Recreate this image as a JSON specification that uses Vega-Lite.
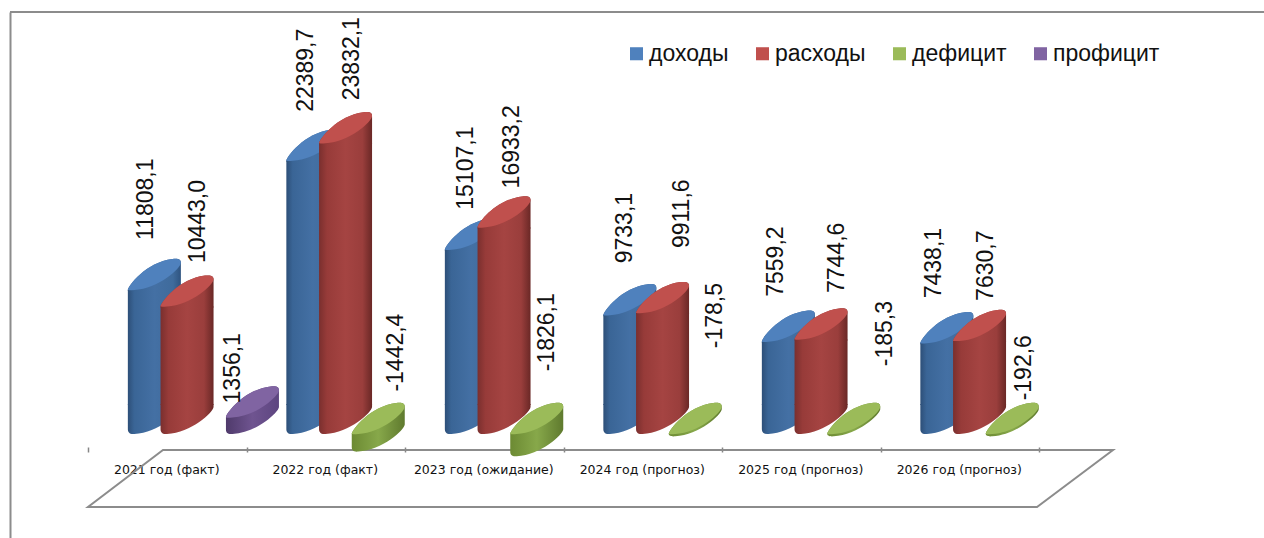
{"$schema":"https://vega.github.io/schema/vega-lite/v6.json","width":1254,"height":526,"autosize":"none","padding":{"left":10,"top":12,"right":0,"bottom":0},"background":"white","config":{"view":{"stroke":null}},
"data":{"values":[
{"year":"2021 год (факт)","series":"доходы","value":11808.1,"label":"11808,1"},{"year":"2021 год (факт)","series":"расходы","value":10443.0,"label":"10443,0"},{"year":"2021 год (факт)","series":"профицит","value":1356.1,"label":"1356,1"},
{"year":"2022 год (факт)","series":"доходы","value":22389.7,"label":"22389,7"},{"year":"2022 год (факт)","series":"расходы","value":23832.1,"label":"23832,1"},{"year":"2022 год (факт)","series":"дефицит","value":-1442.4,"label":"-1442,4"},
{"year":"2023 год (ожидание)","series":"доходы","value":15107.1,"label":"15107,1"},{"year":"2023 год (ожидание)","series":"расходы","value":16933.2,"label":"16933,2"},{"year":"2023 год (ожидание)","series":"дефицит","value":-1826.1,"label":"-1826,1"},
{"year":"2024 год (прогноз)","series":"доходы","value":9733.1,"label":"9733,1"},{"year":"2024 год (прогноз)","series":"расходы","value":9911.6,"label":"9911,6"},{"year":"2024 год (прогноз)","series":"дефицит","value":-178.5,"label":"-178,5"},
{"year":"2025 год (прогноз)","series":"доходы","value":7559.2,"label":"7559,2"},{"year":"2025 год (прогноз)","series":"расходы","value":7744.6,"label":"7744,6"},{"year":"2025 год (прогноз)","series":"дефицит","value":-185.3,"label":"-185,3"},
{"year":"2026 год (прогноз)","series":"доходы","value":7438.1,"label":"7438,1"},{"year":"2026 год (прогноз)","series":"расходы","value":7630.7,"label":"7630,7"},{"year":"2026 год (прогноз)","series":"дефицит","value":-192.6,"label":"-192,6"}
]},
"encoding":{
"x":{"field":"year","type":"nominal","sort":null,"title":null,"scale":{"domain":["2021 год (факт)","2022 год (факт)","2023 год (ожидание)","2024 год (прогноз)","2025 год (прогноз)","2026 год (прогноз)"],"range":[78,1029],"paddingInner":0,"paddingOuter":0},"axis":{"orient":"bottom","offset":-91,"domain":false,"ticks":true,"tickBand":"extent","tickSize":5,"tickColor":"#868686","tickWidth":1.5,"labelAngle":0,"labelFont":"DejaVu Sans","labelFontSize":12.5,"labelOffset":-1,"labelColor":"#111111","labelPadding":11,"labelOverlap":false,"grid":false}},
"xOffset":{"field":"series","type":"nominal","scale":{"domain":["доходы","расходы","дефицит","профицит"],"range":[50,180.8],"paddingInner":0,"paddingOuter":0}}
},
"layer":[
{"mark":{"type":"rule","stroke":"#8c8c8c","strokeWidth":2},"encoding":{"x":null,"xOffset":null,"y":{"datum":34590,"type":"quantitative","title":null,"scale":{"domain":[-8525,34590],"nice":false,"zero":false},"axis":{"orient":"left","domain":true,"domainColor":"#8c8c8c","domainWidth":2,"ticks":false,"labels":false,"grid":false,"title":null}}}},
{"transform":[{"filter":"datum.label=='11808,1'"}],"mark":{"type":"point","shape":"M8.65,0L958.65,0L882.65,57L-66.35,57Z","size":4,"filled":false,"opacity":1,"color":"#8c8c8c","strokeWidth":2},"encoding":{"y":{"datum":-1311,"type":"quantitative"}}},

{"transform":[{"filter":"datum.series=='доходы'"}],"mark":{"type":"bar","size":53,"y2Offset":-29,"fill":{"gradient":"linear","x1":0,"x2":1,"y1":0,"y2":0,"stops":[{"offset":0,"color":"#2d4f78"},{"offset":0.12,"color":"#3a6596"},{"offset":0.5,"color":"#4470a4"},{"offset":0.85,"color":"#3f6b9c"},{"offset":1,"color":"#2f5480"}]}},"encoding":{"y":{"field":"value","type":"quantitative"},"y2":{"datum":0}}},
{"transform":[{"filter":"datum.series=='доходы'"}],"mark":{"type":"point","size":4,"filled":true,"opacity":1,"strokeWidth":0,"shape":"M-26.5,1L-26.5,0C-26.5,-4 -8,-28 18,-31C24,-31.5 26.5,-31 26.5,-27L26.5,1Z","fill":{"gradient":"linear","x1":0,"x2":1,"y1":0,"y2":0,"stops":[{"offset":0,"color":"#2d4f78"},{"offset":0.12,"color":"#3a6596"},{"offset":0.5,"color":"#4470a4"},{"offset":0.85,"color":"#3f6b9c"},{"offset":1,"color":"#2f5480"}]}},"encoding":{"y":{"field":"value","type":"quantitative"}}},
{"transform":[{"filter":"datum.series=='доходы'"}],"mark":{"type":"point","size":4,"filled":true,"opacity":1,"strokeWidth":0,"shape":"M-26.5,-30L26.5,-30L26.5,-27C26.5,-22 4,-1 -20,0C-25,0.5 -26.5,-2 -26.5,-5Z","fill":{"gradient":"linear","x1":0,"x2":1,"y1":0,"y2":0,"stops":[{"offset":0,"color":"#2d4f78"},{"offset":0.12,"color":"#3a6596"},{"offset":0.5,"color":"#4470a4"},{"offset":0.85,"color":"#3f6b9c"},{"offset":1,"color":"#2f5480"}]}},"encoding":{"y":{"datum":0,"type":"quantitative"}}},
{"transform":[{"filter":"datum.series=='доходы'"}],"mark":{"type":"point","size":4,"filled":true,"opacity":1,"strokeWidth":0,"shape":"M-26.5,0C-26.5,-4 -8,-28 18,-31C24,-31.5 26.5,-31 26.5,-27C26.5,-22 4,-1 -20,0C-25,0.5 -26.5,0 -26.5,0Z"},"encoding":{"y":{"field":"value","type":"quantitative"},"color":{"field":"series","type":"nominal","scale":{"domain":["доходы","расходы","дефицит","профицит"],"range":["#4f81bd","#c0504d","#9bbb59","#8064a2"]},"legend":{"orient":"none","legendX":615,"legendY":30,"direction":"horizontal","columns":4,"title":null,"symbolType":"square","symbolSize":170,"symbolOpacity":1,"labelFont":"Liberation Sans","labelFontSize":23,"labelColor":"#111111","columnPadding":22,"labelOffset":1,"symbolStrokeWidth":0,"labelLimit":200}}}},

{"transform":[{"filter":"datum.series=='расходы'"}],"mark":{"type":"bar","size":53,"y2Offset":-29,"fill":{"gradient":"linear","x1":0,"x2":1,"y1":0,"y2":0,"stops":[{"offset":0,"color":"#7a2f2e"},{"offset":0.15,"color":"#973b39"},{"offset":0.5,"color":"#a54442"},{"offset":0.82,"color":"#9a3e3c"},{"offset":1,"color":"#6a2826"}]}},"encoding":{"y":{"field":"value","type":"quantitative"},"y2":{"datum":0}}},
{"transform":[{"filter":"datum.series=='расходы'"}],"mark":{"type":"point","size":4,"filled":true,"opacity":1,"strokeWidth":0,"shape":"M-26.5,1L-26.5,0C-26.5,-4 -8,-28 18,-31C24,-31.5 26.5,-31 26.5,-27L26.5,1Z","fill":{"gradient":"linear","x1":0,"x2":1,"y1":0,"y2":0,"stops":[{"offset":0,"color":"#7a2f2e"},{"offset":0.15,"color":"#973b39"},{"offset":0.5,"color":"#a54442"},{"offset":0.82,"color":"#9a3e3c"},{"offset":1,"color":"#6a2826"}]}},"encoding":{"y":{"field":"value","type":"quantitative"}}},
{"transform":[{"filter":"datum.series=='расходы'"}],"mark":{"type":"point","size":4,"filled":true,"opacity":1,"strokeWidth":0,"shape":"M-26.5,-30L26.5,-30L26.5,-27C26.5,-22 4,-1 -20,0C-25,0.5 -26.5,-2 -26.5,-5Z","fill":{"gradient":"linear","x1":0,"x2":1,"y1":0,"y2":0,"stops":[{"offset":0,"color":"#7a2f2e"},{"offset":0.15,"color":"#973b39"},{"offset":0.5,"color":"#a54442"},{"offset":0.82,"color":"#9a3e3c"},{"offset":1,"color":"#6a2826"}]}},"encoding":{"y":{"datum":0,"type":"quantitative"}}},
{"transform":[{"filter":"datum.series=='расходы'"}],"mark":{"type":"point","size":4,"filled":true,"opacity":1,"strokeWidth":0,"shape":"M-26.5,0C-26.5,-4 -8,-28 18,-31C24,-31.5 26.5,-31 26.5,-27C26.5,-22 4,-1 -20,0C-25,0.5 -26.5,0 -26.5,0Z"},"encoding":{"y":{"field":"value","type":"quantitative"},"color":{"field":"series","type":"nominal"}}},

{"transform":[{"filter":"datum.series=='профицит'"}],"mark":{"type":"point","size":4,"filled":true,"opacity":1,"strokeWidth":0,"shape":"M-26.5,0C-26.5,-4 -8,-28 18,-31C24,-31.5 26.5,-31 26.5,-27L26.5,-10.5C26.5,-5.5 4,15.5 -20,16.5C-25,17 -26.5,15 -26.5,12Z","fill":{"gradient":"linear","x1":0,"x2":1,"y1":0,"y2":0,"stops":[{"offset":0,"color":"#4f3a6b"},{"offset":0.5,"color":"#6f5490"},{"offset":1,"color":"#5d4580"}]}},"encoding":{"y":{"field":"value","type":"quantitative"}}},
{"transform":[{"filter":"datum.series=='профицит'"}],"mark":{"type":"point","size":4,"filled":true,"opacity":1,"strokeWidth":0,"shape":"M-26.5,0C-26.5,-4 -8,-28 18,-31C24,-31.5 26.5,-31 26.5,-27C26.5,-22 4,-1 -20,0C-25,0.5 -26.5,0 -26.5,0Z"},"encoding":{"y":{"field":"value","type":"quantitative"},"color":{"field":"series","type":"nominal"}}},

{"transform":[{"filter":"datum.label=='-1442,4'"}],"mark":{"type":"point","size":4,"filled":true,"opacity":1,"strokeWidth":0,"shape":"M-26.5,0C-26.5,-4 -8,-28 18,-31C24,-31.5 26.5,-31 26.5,-27L26.5,-9.4C26.5,-4.4 4,16.6 -20,17.6C-25,18.1 -26.5,16 -26.5,13Z","fill":{"gradient":"linear","x1":0,"x2":1,"y1":0,"y2":0,"stops":[{"offset":0,"color":"#6c8a33"},{"offset":0.5,"color":"#87a84a"},{"offset":1,"color":"#5f7a2e"}]}},"encoding":{"y":{"datum":0,"type":"quantitative"}}},
{"transform":[{"filter":"datum.label=='-1826,1'"}],"mark":{"type":"point","size":4,"filled":true,"opacity":1,"strokeWidth":0,"shape":"M-26.5,0C-26.5,-4 -8,-28 18,-31C24,-31.5 26.5,-31 26.5,-27L26.5,-4.7C26.5,0.3 4,21.3 -20,22.3C-25,22.8 -26.5,20.5 -26.5,17.5Z","fill":{"gradient":"linear","x1":0,"x2":1,"y1":0,"y2":0,"stops":[{"offset":0,"color":"#6c8a33"},{"offset":0.5,"color":"#87a84a"},{"offset":1,"color":"#5f7a2e"}]}},"encoding":{"y":{"datum":0,"type":"quantitative"}}},
{"transform":[{"filter":"datum.series=='дефицит' && datum.value>-1000"}],"mark":{"type":"point","size":4,"filled":true,"opacity":1,"strokeWidth":0,"shape":"M-26.5,0C-26.5,-4 -8,-28 18,-31C24,-31.5 26.5,-31 26.5,-27L26.5,-24.7C26.5,-19.7 4,1.3 -20,2.3C-25,2.8 -26.5,1 -26.5,0Z","fill":{"gradient":"linear","x1":0,"x2":1,"y1":0,"y2":0,"stops":[{"offset":0,"color":"#6c8a33"},{"offset":0.5,"color":"#87a84a"},{"offset":1,"color":"#5f7a2e"}]}},"encoding":{"y":{"datum":0,"type":"quantitative"}}},
{"transform":[{"filter":"datum.series=='дефицит'"}],"mark":{"type":"point","size":4,"filled":true,"opacity":1,"strokeWidth":0,"shape":"M-26.5,0C-26.5,-4 -8,-28 18,-31C24,-31.5 26.5,-31 26.5,-27C26.5,-22 4,-1 -20,0C-25,0.5 -26.5,0 -26.5,0Z"},"encoding":{"y":{"datum":0,"type":"quantitative"},"color":{"field":"series","type":"nominal"}}},

{"transform":[{"filter":"datum.label=='11808,1'"}],"mark":{"type":"text","angle":270,"align":"left","baseline":"middle","font":"Liberation Sans","fontSize":23,"color":"#111111","dx":50,"dy":-8},"encoding":{"y":{"field":"value","type":"quantitative"},"text":{"field":"label"}}},
{"transform":[{"filter":"datum.label=='10443,0'"}],"mark":{"type":"text","angle":270,"align":"left","baseline":"middle","font":"Liberation Sans","fontSize":23,"color":"#111111","dx":43.5,"dy":11},"encoding":{"y":{"field":"value","type":"quantitative"},"text":{"field":"label"}}},
{"transform":[{"filter":"datum.label=='1356,1'"}],"mark":{"type":"text","angle":270,"align":"left","baseline":"middle","font":"Liberation Sans","fontSize":23,"color":"#111111","dx":14,"dy":-19},"encoding":{"y":{"field":"value","type":"quantitative"},"text":{"field":"label"}}},
{"transform":[{"filter":"datum.label=='22389,7'"}],"mark":{"type":"text","angle":270,"align":"left","baseline":"middle","font":"Liberation Sans","fontSize":23,"color":"#111111","dx":49,"dy":-7},"encoding":{"y":{"field":"value","type":"quantitative"},"text":{"field":"label"}}},
{"transform":[{"filter":"datum.label=='23832,1'"}],"mark":{"type":"text","angle":270,"align":"left","baseline":"middle","font":"Liberation Sans","fontSize":23,"color":"#111111","dx":43,"dy":6.5},"encoding":{"y":{"field":"value","type":"quantitative"},"text":{"field":"label"}}},
{"transform":[{"filter":"datum.label=='-1442,4'"}],"mark":{"type":"text","angle":270,"align":"left","baseline":"middle","font":"Liberation Sans","fontSize":23,"color":"#111111","dx":60,"dy":18},"encoding":{"y":{"field":"value","type":"quantitative"},"text":{"field":"label"}}},
{"transform":[{"filter":"datum.label=='15107,1'"}],"mark":{"type":"text","angle":270,"align":"left","baseline":"middle","font":"Liberation Sans","fontSize":23,"color":"#111111","dx":40,"dy":-5},"encoding":{"y":{"field":"value","type":"quantitative"},"text":{"field":"label"}}},
{"transform":[{"filter":"datum.label=='16933,2'"}],"mark":{"type":"text","angle":270,"align":"left","baseline":"middle","font":"Liberation Sans","fontSize":23,"color":"#111111","dx":39,"dy":8},"encoding":{"y":{"field":"value","type":"quantitative"},"text":{"field":"label"}}},
{"transform":[{"filter":"datum.label=='-1826,1'"}],"mark":{"type":"text","angle":270,"align":"left","baseline":"middle","font":"Liberation Sans","fontSize":23,"color":"#111111","dx":85,"dy":10},"encoding":{"y":{"field":"value","type":"quantitative"},"text":{"field":"label"}}},
{"transform":[{"filter":"datum.label=='9733,1'"}],"mark":{"type":"text","angle":270,"align":"left","baseline":"middle","font":"Liberation Sans","fontSize":23,"color":"#111111","dx":52,"dy":-5},"encoding":{"y":{"field":"value","type":"quantitative"},"text":{"field":"label"}}},
{"transform":[{"filter":"datum.label=='9911,6'"}],"mark":{"type":"text","angle":270,"align":"left","baseline":"middle","font":"Liberation Sans","fontSize":23,"color":"#111111","dx":65,"dy":19.5},"encoding":{"y":{"field":"value","type":"quantitative"},"text":{"field":"label"}}},
{"transform":[{"filter":"datum.label=='-178,5'"}],"mark":{"type":"text","angle":270,"align":"left","baseline":"middle","font":"Liberation Sans","fontSize":23,"color":"#111111","dx":88,"dy":20},"encoding":{"y":{"field":"value","type":"quantitative"},"text":{"field":"label"}}},
{"transform":[{"filter":"datum.label=='7559,2'"}],"mark":{"type":"text","angle":270,"align":"left","baseline":"middle","font":"Liberation Sans","fontSize":23,"color":"#111111","dx":45,"dy":-12},"encoding":{"y":{"field":"value","type":"quantitative"},"text":{"field":"label"}}},
{"transform":[{"filter":"datum.label=='7744,6'"}],"mark":{"type":"text","angle":270,"align":"left","baseline":"middle","font":"Liberation Sans","fontSize":23,"color":"#111111","dx":46.5,"dy":16},"encoding":{"y":{"field":"value","type":"quantitative"},"text":{"field":"label"}}},
{"transform":[{"filter":"datum.label=='-185,3'"}],"mark":{"type":"text","angle":270,"align":"left","baseline":"middle","font":"Liberation Sans","fontSize":23,"color":"#111111","dx":70,"dy":31},"encoding":{"y":{"field":"value","type":"quantitative"},"text":{"field":"label"}}},
{"transform":[{"filter":"datum.label=='7438,1'"}],"mark":{"type":"text","angle":270,"align":"left","baseline":"middle","font":"Liberation Sans","fontSize":23,"color":"#111111","dx":45,"dy":-13},"encoding":{"y":{"field":"value","type":"quantitative"},"text":{"field":"label"}}},
{"transform":[{"filter":"datum.label=='7630,7'"}],"mark":{"type":"text","angle":270,"align":"left","baseline":"middle","font":"Liberation Sans","fontSize":23,"color":"#111111","dx":40,"dy":6.5},"encoding":{"y":{"field":"value","type":"quantitative"},"text":{"field":"label"}}},
{"transform":[{"filter":"datum.label=='-192,6'"}],"mark":{"type":"text","angle":270,"align":"left","baseline":"middle","font":"Liberation Sans","fontSize":23,"color":"#111111","dx":36,"dy":12},"encoding":{"y":{"field":"value","type":"quantitative"},"text":{"field":"label"}}}
]}
